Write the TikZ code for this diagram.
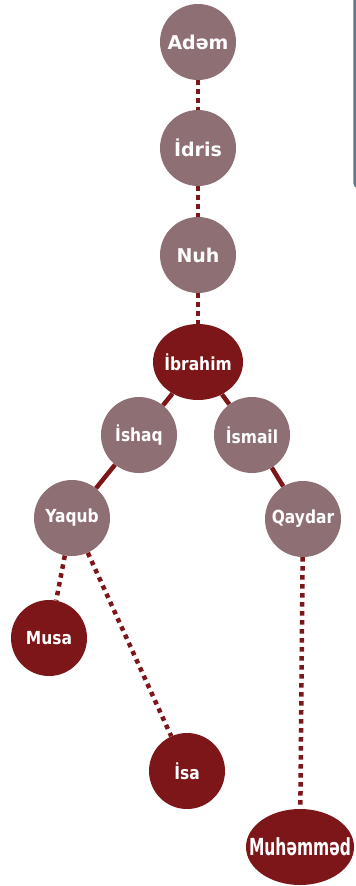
\documentclass[tikz,border=0pt]{standalone}
\usepackage{fontspec}
\usepackage{tikz}
\usetikzlibrary{calc}
\usetikzlibrary{shapes.geometric}
\definecolor{ancestormauve}{HTML}{8E6F74}
\definecolor{prophetred}{HTML}{7D1619}
\definecolor{panelblue}{HTML}{5D7B98}
\newfontfamily\wideface{DejaVu Sans}
\newfontfamily\narrowface[FakeStretch=0.86]{DejaVu Sans}
\newfontfamily\narrowerface[FakeStretch=0.66]{DejaVu Sans}
\tikzset{
    ancestor/.style={circle, fill=ancestormauve, minimum size=76pt, inner sep=0pt, text=white,
        font=\narrowface\bfseries\fontsize{18}{20}\selectfont},
    elder/.style={ancestor, font=\wideface\bfseries\fontsize{19}{20}\selectfont},
    prophet/.style={ancestor, fill=prophetred},
    prophetoval/.style={prophet, ellipse, minimum width=90pt, minimum height=76pt}
}
\tikzset{
    lineage/.style={draw=prophetred, line width=4.5pt},
    descent/.style={lineage, dash pattern=on 4.5pt off 4.5pt}
}

\begin{document}
\begin{tikzpicture}[x=1pt,y=-1pt]
        \newcommand{\famtreewidth}{356}
        \newcommand{\famtreeheight}{886}
        \newcommand{\famtreemidx}{198}
        \useasboundingbox (0,0) rectangle (\famtreewidth,\famtreeheight);
        \draw[panelblue, line width=2.6pt, rounded corners=4pt] (354.6,-5) -- (354.6,187) -- (362,187);
        \node[elder] (adam) at (\famtreemidx,42) {Adəm};
        \node[elder] (idris) at (\famtreemidx,148) {İdris};
        \node[elder] (nuh) at (\famtreemidx,255) {Nuh};
        \node[prophetoval] (ibrahim) at (\famtreemidx,362) {\makebox[0pt]{İbrahim}};
        \node[ancestor] (ishaq) at (139,435) {İshaq};
        \node[ancestor] (ismail) at (252,435) {İsmail};
        \node[ancestor] (yaqub) at (72,518) {Yaqub};
        \node[ancestor] (qaydar) at (303,519) {Qaydar};
        \node[prophet] (musa) at (49,638) {Musa};
        \node[prophet] (isa) at (187,771) {İsa};
        \node[prophetoval, minimum width=108pt, font=\narrowerface\bfseries\fontsize{23.5}{24}\selectfont] (muhammad) at (300,847) {\makebox[0pt]{Muhəmməd}};
        \draw[descent] (adam) -- (idris);
        \draw[descent] (idris) -- (nuh);
        \draw[descent] (nuh) -- (ibrahim);
        \draw[lineage] (ibrahim) -- (ishaq);
        \draw[lineage] (ibrahim) -- (ismail);
        \draw[lineage] (ishaq) -- (yaqub);
        \draw[lineage] (ismail) -- (qaydar);
        \draw[descent] (yaqub) -- (musa);
        \draw[descent] (yaqub) -- (isa);
        \draw[descent] (qaydar) -- (muhammad);
    \end{tikzpicture}
\end{document}
